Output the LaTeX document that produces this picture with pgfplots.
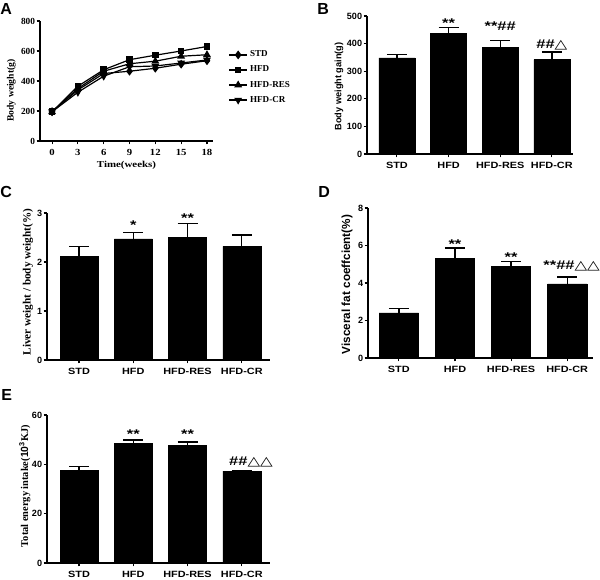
\documentclass[border=0pt]{standalone}
\usepackage{pgfplots}
\pgfplotsset{compat=1.18}
\usepackage{fontspec}
\setmainfont{Liberation Sans}
\newfontfamily\serif{Liberation Serif}
\newfontfamily\dv{DejaVu Sans}
\newcommand\tri{{\dv\char"25B3}}
\tikzset{ann/.style={anchor=base, inner sep=0pt, font=\fontsize{9.5}{10}\selectfont\bfseries, xscale=1.3}}
\pgfplotsset{
  common/.style={
    scale only axis, axis x line*=bottom, axis y line*=left,
    axis line style={line width=1pt, black},
    tick style={line width=0.8pt, black}, major tick length=2.5pt, tick align=outside,
    ymin=0, clip=false,
    yticklabel style={inner xsep=1pt},
    /pgf/number format/assume math mode=true,
  },
  barstyle/.style={
    common,
    xtick={0,1,2,3}, xticklabels={STD,HFD,HFD-RES,HFD-CR},
    ticklabel style={font=\fontsize{6.8}{7}\selectfont\bfseries},
    xticklabel style={xscale=1.2},
    ybar, bar width=0.7,
    cycle list={{fill=black, draw=black}},
    error bars/y dir=plus, error bars/y explicit,
    error bars/error bar style={line width=1pt, black},
    error bars/error mark options={rotate=90, mark size=7.5pt, line width=1pt, black},
  },
}
\begin{document}
\begin{tikzpicture}
\useasboundingbox (0,0) rectangle (450pt,434.25pt);
% panel letters
\node[anchor=base west, inner sep=0pt, font=\fontsize{12}{13}\selectfont\bfseries] at (0pt,423pt) {A};
\node[anchor=base west, inner sep=0pt, font=\fontsize{12}{13}\selectfont\bfseries] at (237.75pt,423pt) {B};
\node[anchor=base west, inner sep=0pt, font=\fontsize{12}{13}\selectfont\bfseries] at (0pt,285.75pt) {C};
\node[anchor=base west, inner sep=0pt, font=\fontsize{12}{13}\selectfont\bfseries] at (238.5pt,285.75pt) {D};
\node[anchor=base west, inner sep=0pt, font=\fontsize{12}{13}\selectfont\bfseries] at (0.75pt,133.5pt) {E};

% Panel A
\begin{axis}[common, at={(30pt,328.5pt)}, anchor=south west,
  width=129.75pt, height=90pt,
  xmin=-1.4, xmax=18.7, ymax=800,
  xtick={0,3,6,9,12,15,18}, ytick={0,200,400,600,800},
  ticklabel style={font=\serif\fontsize{7}{7}\selectfont\bfseries},
  xticklabel style={xscale=1.15},
  xlabel={Time(weeks)}, ylabel={Body weight(g)},
  xlabel style={font=\serif\fontsize{6.8}{7}\selectfont\bfseries, xscale=1.2, at={(rel axis cs:0.5,-0.2)}, anchor=center},
  ylabel style={font=\serif\fontsize{7.2}{8}\selectfont\bfseries, at={(rel axis cs:-0.165,0.42)}, anchor=center},
  legend style={draw=none, fill=none, at={(1.09,0.775)}, anchor=north west,
    font=\serif\fontsize{6.8}{7}\selectfont\bfseries, row sep=1.3pt, inner sep=0pt,
    cells={anchor=west}},
  legend image code/.code={\draw[mark repeat=2,mark phase=2] plot coordinates {(0cm,0cm) (0.23cm,0cm) (0.46cm,0cm)};},
  every axis plot/.append style={line width=0.9pt, black, mark options={solid, fill=black}},
]
\addplot[mark=diamond*, mark size=2.6pt] coordinates {(0,195) (3,340) (6,450) (9,465) (12,485) (15,512) (18,535)};
\addplot[mark=square*, mark size=2pt] coordinates {(0,195) (3,365) (6,475) (9,542) (12,572) (15,600) (18,630)};
\addplot[mark=triangle*, mark size=2.5pt] coordinates {(0,195) (3,350) (6,465) (9,515) (12,532) (15,565) (18,575)};
\addplot[mark=triangle*, mark size=2.5pt, mark options={rotate=180}] coordinates {(0,195) (3,325) (6,432) (9,495) (12,500) (15,520) (18,540)};
\legend{STD,HFD,HFD-RES,HFD-CR}
\end{axis}

% Panel B
\begin{axis}[barstyle, at={(275.25pt,318.75pt)}, anchor=south west,
  width=154.5pt, height=103.5pt,
  xmin=-0.58, xmax=3.41, ymax=500, ytick={0,100,200,300,400,500},
  ylabel={Body weight gain(g)},
  ylabel style={font=\fontsize{6.9}{7}\selectfont\bfseries, at={(rel axis cs:-0.136,0.49)}, anchor=center},
]
\addplot coordinates {(0,348) +- (0,13) (1,438) +- (0,21) (2,387) +- (0,25) (3,342) +- (0,28)};
\node[ann] at (axis cs:1,457) {**};
\node[ann] at (axis cs:2,446) {**\#\#};
\node[ann] at (axis cs:3,384) {\#\#\tri};
\end{axis}

% Panel C
\begin{axis}[barstyle, at={(35.25pt,164.25pt)}, anchor=south west,
  width=167.25pt, height=110.25pt,
  xmin=-0.59, xmax=3.52, ymax=3, ytick={0,1,2,3},
  ylabel={Liver weight / body weight(\%)},
  ylabel style={font=\serif\fontsize{8.4}{9}\selectfont\bfseries, at={(rel axis cs:-0.085,0.53)}, anchor=center},
]
\addplot coordinates {(0,2.12) +- (0,0.19) (1,2.47) +- (0,0.13) (2,2.51) +- (0,0.27) (3,2.32) +- (0,0.23)};
\node[ann] at (axis cs:1,2.66) {*};
\node[ann] at (axis cs:2,2.80) {**};
\end{axis}

% Panel D
\begin{axis}[barstyle, at={(276pt,165.75pt)}, anchor=south west,
  width=168.75pt, height=112.5pt,
  xmin=-0.55, xmax=3.46, ymax=8, ytick={0,2,4,6,8},
  ylabel={Visceral fat coeffcient(\%)},
  ylabel style={font=\fontsize{8.8}{9}\selectfont\bfseries, at={(rel axis cs:-0.093,0.49)}, anchor=center},
]
\addplot coordinates {(0,2.40) +- (0,0.25) (1,5.33) +- (0,0.54) (2,4.89) +- (0,0.26) (3,3.95) +- (0,0.37)};
\node[ann] at (axis cs:1,5.85) {**};
\node[ann] at (axis cs:2,5.14) {**};
\node[ann] at (axis cs:3.08,4.70) {**\#\#\tri\tri};
\end{axis}

% Panel E
\begin{axis}[barstyle, at={(35.25pt,12pt)}, anchor=south west,
  width=167.25pt, height=111pt,
  xmin=-0.59, xmax=3.52, ymax=60, ytick={0,20,40,60},
  ylabel={Total energy intake($\mathbf{10^3}$KJ)},
  ylabel style={font=\serif\fontsize{7.8}{8}\selectfont\bfseries, at={(rel axis cs:-0.099,0.52)}, anchor=center},
]
\addplot coordinates {(0,37.4) +- (0,1.6) (1,48.5) +- (0,1.4) (2,47.7) +- (0,1.3) (3,37.2) +- (0,0.3)};
\node[ann] at (axis cs:1,50.4) {**};
\node[ann] at (axis cs:2,50.4) {**};
\node[ann] at (axis cs:3.17,39.7) {\#\#\tri\tri};
\end{axis}
\end{tikzpicture}
\end{document}
